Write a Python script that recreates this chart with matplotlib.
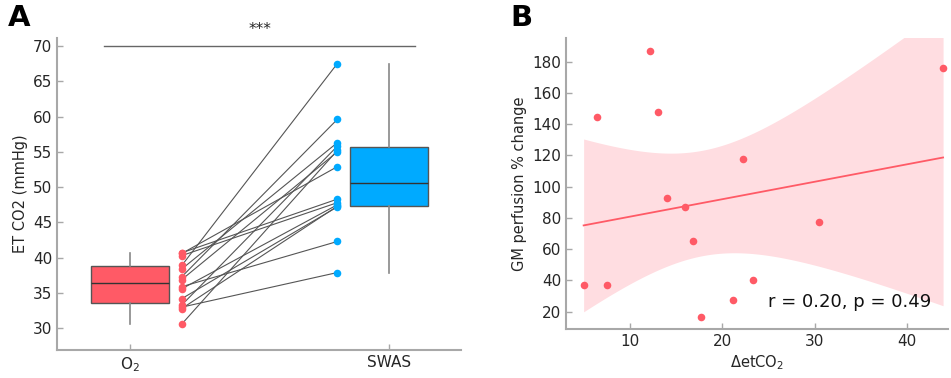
import numpy as np
import matplotlib
matplotlib.use("Agg")
import matplotlib.pyplot as plt

# ---- Panel A data (paired ET CO2, mmHg) ----
groups = ["O$_2$", "SWAS"]
o2_vals = [40.7, 40.6, 40.3, 38.9, 38.4, 37.3, 36.9, 35.9, 35.6, 34.2, 33.3, 33.0, 32.8, 30.6]
swas_vals = [48.3, 52.9, 47.8, 67.5, 56.3, 59.6, 55.0, 42.3, 47.5, 47.2, 55.8, 37.9, 47.3, 55.2]
sig_label = "***"

# ---- Panel B data ----
delta_etco2 = [4.93, 6.42, 7.50, 12.14, 13.04, 14.02, 15.94, 16.84, 17.67, 21.11, 22.27, 23.36, 30.52, 43.95]
gm_perf = [37.1, 144.8, 36.9, 186.8, 147.8, 92.7, 87.0, 65.4, 16.8, 27.5, 117.9, 40.3, 77.4, 176.0]
stat_text = "r = 0.20, p = 0.49"

RED = "#ff5a66"
BLUE = "#00aaff"
SPINE = "#a8a8a8"
TXT = "#262626"

plt.rcParams["font.family"] = ["DejaVu Sans"]
fig = plt.figure(figsize=(9.51, 3.78), dpi=100)

def style(ax):
    for s in ["top", "right"]:
        ax.spines[s].set_visible(False)
    for s in ["left", "bottom"]:
        ax.spines[s].set_color(SPINE)
        ax.spines[s].set_linewidth(1.5)
    ax.tick_params(direction="in", length=4, width=1, color=SPINE,
                   labelcolor=TXT, labelsize=11)

# ---------------- Panel A ----------------
axA = fig.add_axes([0.0603, 0.0741, 0.4244, 0.8254])
style(axA)
bp = axA.boxplot([o2_vals, swas_vals], positions=[1, 2], widths=0.3,
                 whis=(0, 100), patch_artist=True, showfliers=False,
                 showcaps=False)
for patch, col in zip(bp["boxes"], [RED, BLUE]):
    patch.set_facecolor(col)
    patch.set_edgecolor("#555555")
    patch.set_linewidth(1.0)
for med in bp["medians"]:
    med.set_color("#333333")
    med.set_linewidth(1.0)
for w in bp["whiskers"]:
    w.set_color("#888888")
    w.set_linewidth(1.2)

xo, xs = 1.2, 1.8
for a, b in zip(o2_vals, swas_vals):
    axA.plot([xo, xs], [a, b], color="#555555", lw=0.8, zorder=2)
axA.scatter([xo] * len(o2_vals), o2_vals, s=30, color=RED, zorder=3, linewidths=0)
axA.scatter([xs] * len(swas_vals), swas_vals, s=30, color=BLUE, zorder=3, linewidths=0)

axA.plot([0.9, 2.1], [70, 70], color="#666666", lw=1.0, clip_on=False)
axA.text(1.5, 71.2, sig_label, ha="center", va="bottom", fontsize=11, color=TXT)

axA.set_xlim(0.72, 2.277)
axA.set_ylim(26.93, 71.13)
axA.set_yticks(np.arange(30, 71, 5))
axA.set_xticks([1, 2])
axA.set_xticklabels(groups)
axA.set_ylabel("ET CO2 (mmHg)", fontsize=10.5, color=TXT)
fig.text(0.008, 0.99, "A", fontsize=21, fontweight="bold", ha="left", va="top")

# ---------------- Panel B ----------------
axB = fig.add_axes([0.5952, 0.1288, 0.4016, 0.7715])
style(axB)
x = np.array(delta_etco2)
y = np.array(gm_perf)
n = len(x)
slope, intercept = np.polyfit(x, y, 1)
xg = np.linspace(x.min(), x.max(), 200)
yg = intercept + slope * xg
resid = y - (intercept + slope * x)
s = np.sqrt(np.sum(resid ** 2) / (n - 2))
tcrit = 2.179  # t(0.975, df=12)
se = s * np.sqrt(1.0 / n + (xg - x.mean()) ** 2 / np.sum((x - x.mean()) ** 2))
axB.fill_between(xg, yg - tcrit * se, yg + tcrit * se, color="#ffdde1", lw=0, zorder=1)
axB.plot(xg, yg, color=RED, lw=1.3, zorder=2)
axB.scatter(x, y, s=30, color=RED, zorder=3, linewidths=0, clip_on=False)
axB.set_xlim(3.02, 44.48)
axB.set_ylim(8.7, 195.4)
axB.set_xticks([10, 20, 30, 40])
axB.set_yticks(np.arange(20, 181, 20))
axB.set_xlabel(r"$\Delta$etCO$_2$", fontsize=10.5, color=TXT, labelpad=3)
axB.set_ylabel("GM perfusion % change", fontsize=10.5, color=TXT)
axB.text(0.955, 0.095, stat_text, transform=axB.transAxes, ha="right", va="center",
         fontsize=13, color="#111111")
fig.text(0.537, 0.99, "B", fontsize=21, fontweight="bold", ha="left", va="top")

fig.savefig("out.png", dpi=100)
